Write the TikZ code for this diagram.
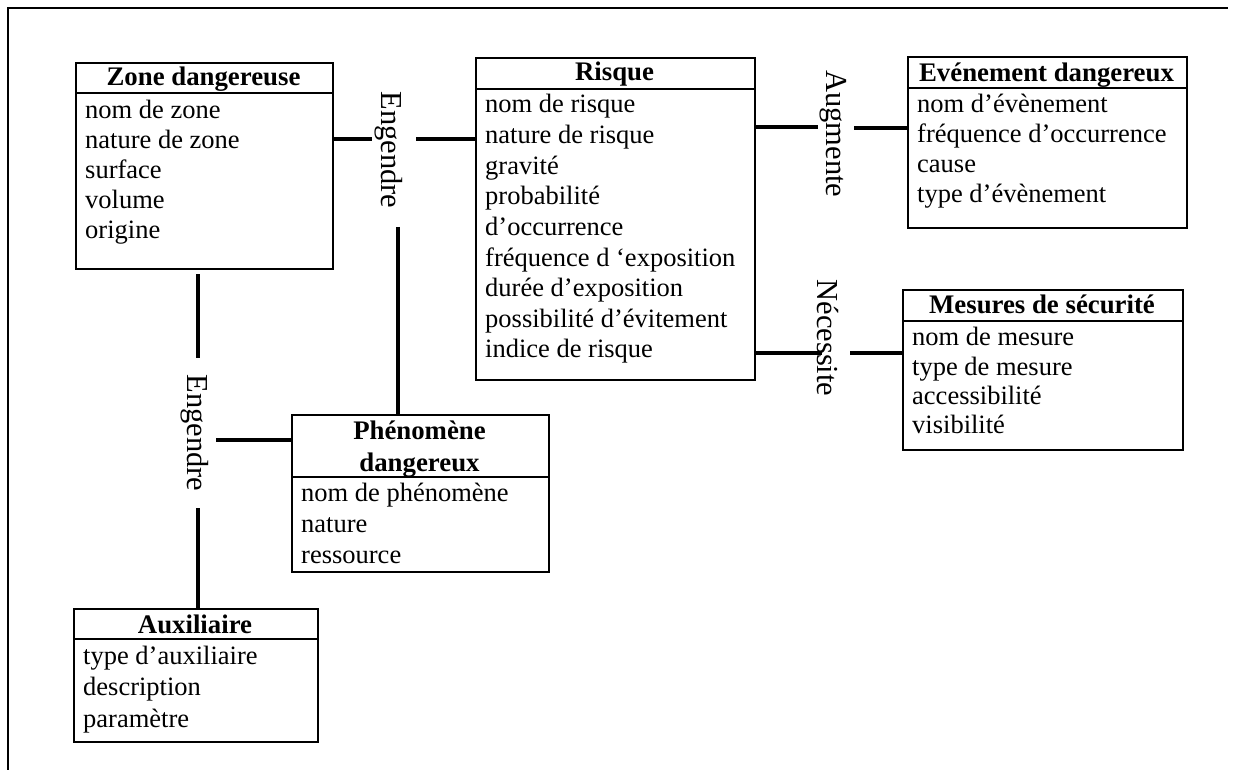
\documentclass[tikz,border=0pt]{standalone}
\usepackage{fontspec}
\setmainfont{Liberation Serif}
\begin{document}
\begin{tikzpicture}[x=1pt,y=-1pt,
  box/.style={draw, line width=2pt, inner sep=0pt, anchor=north west},
  sepline/.style={line width=2pt},
  conn/.style={line width=3.2pt},
  frameline/.style={line width=2pt},
  attr/.style={anchor=base west, inner sep=0pt, font=\fontsize{26.5}{30}\selectfont},
  ttl/.style={anchor=base, inner sep=0pt, font=\fontsize{26.8}{30}\selectfont\bfseries},
  lbl/.style={rotate=-90, inner sep=0pt, font=\fontsize{30.5}{34}\selectfont}]
\useasboundingbox (0,0) rectangle (1234,770);
% outer frame (top and left only)
\draw[frameline] (8,770) -- (8,8) -- (1228,8);

% ---------- boxes ----------
\node[box, minimum width=257pt, minimum height=206pt] (zone) at (75,62) {};
\draw[sepline] ([yshift=-31pt]zone.north west) -- ([yshift=-31pt]zone.north east);
\node[ttl] (zonet) at (203.5,86) {Zone dangereuse};
\node[attr] (z1) at (85,119) {nom de zone};
\node[attr] (z2) at (85,149) {nature de zone};
\node[attr] (z3) at (85,179) {surface};
\node[attr] (z4) at (85,209) {volume};
\node[attr] (z5) at (85,239) {origine};

\node[box, minimum width=279pt, minimum height=322pt] (risque) at (475,57) {};
\draw[sepline] ([yshift=-32pt]risque.north west) -- ([yshift=-32pt]risque.north east);
\node[ttl] (risquet) at (614.5,81) {Risque};
\node[attr] (r1) at (485,113) {nom de risque};
\node[attr] (r2) at (485,143.6) {nature de risque};
\node[attr] (r3) at (485,174.2) {gravité};
\node[attr] (r4) at (485,204.8) {probabilité};
\node[attr] (r5) at (485,235.4) {d’occurrence};
\node[attr] (r6) at (485,266) {fréquence d ‘exposition};
\node[attr] (r7) at (485,296.6) {durée d’exposition};
\node[attr] (r8) at (485,327.2) {possibilité d’évitement};
\node[attr] (r9) at (485,357.8) {indice de risque};

\node[box, minimum width=279pt, minimum height=171pt] (even) at (907,56) {};
\draw[sepline] ([yshift=-32pt]even.north west) -- ([yshift=-32pt]even.north east);
\node[ttl] (event) at (1046.5,82) {Evénement dangereux};
\node[attr] (e1) at (917,113) {nom d’évènement};
\node[attr] (e2) at (917,143) {fréquence d’occurrence};
\node[attr] (e3) at (917,173) {cause};
\node[attr] (e4) at (917,203) {type d’évènement};

\node[box, minimum width=280pt, minimum height=160pt] (mes) at (902,289) {};
\draw[sepline] ([yshift=-32pt]mes.north west) -- ([yshift=-32pt]mes.north east);
\node[ttl] (mest) at (1042,313) {Mesures de sécurité};
\node[attr] (m1) at (912,345) {nom de mesure};
\node[attr] (m2) at (912,375) {type de mesure};
\node[attr] (m3) at (912,404) {accessibilité};
\node[attr] (m4) at (912,433) {visibilité};

\node[box, minimum width=257pt, minimum height=157pt] (phen) at (291,414) {};
\draw[sepline] ([yshift=-63pt]phen.north west) -- ([yshift=-63pt]phen.north east);
\node[ttl] (phent1) at (419.5,439) {Phénomène};
\node[ttl] (phent2) at (419.5,471) {dangereux};
\node[attr] (p1) at (301,501) {nom de phénomène};
\node[attr] (p2) at (301,532) {nature};
\node[attr] (p3) at (301,563) {ressource};

\node[box, minimum width=244pt, minimum height=133pt] (aux) at (73,608) {};
\draw[sepline] ([yshift=-31pt]aux.north west) -- ([yshift=-31pt]aux.north east);
\node[ttl] (auxt) at (195,633) {Auxiliaire};
\node[attr] (a1) at (83,664) {type d’auxiliaire};
\node[attr] (a2) at (83,695) {description};
\node[attr] (a3) at (83,727) {paramètre};

% ---------- relation labels ----------
\node[lbl] (eng1) at (389,150) {Engendre};
\node[lbl] (eng2) at (195,433) {Engendre};
\node[lbl] (aug) at (833,134) {Augmente};
\node[lbl] (nec) at (828,338) {Nécessite};

% ---------- connector ends ----------
\coordinate (c1) at (372,139);
\coordinate (c2) at (416,139);
\coordinate (c3) at (398,227);
\coordinate (c4) at (198,358);
\coordinate (c5) at (198,508);
\coordinate (c6) at (216,440);
\coordinate (c7) at (818,127);
\coordinate (c8) at (854,128);
\coordinate (c9) at (822,353);
\coordinate (c10) at (850,353);

% ---------- connectors ----------
\draw[conn] (c1 -| zone.east) -- (c1);
\draw[conn] (c2) -- (c2 -| risque.west);
\draw[conn] (c3) -- (c3 |- phen.north);
\draw[conn] ([yshift=-4pt]c4 |- zone.south) -- (c4);
\draw[conn] (c5) -- (c5 |- aux.north);
\draw[conn] (c6) -- (c6 -| phen.west);
\draw[conn] (c7 -| risque.east) -- (c7);
\draw[conn] (c8) -- (c8 -| even.west);
\draw[conn] (c9 -| risque.east) -- (c9);
\draw[conn] (c10) -- (c10 -| mes.west);
\end{tikzpicture}
\end{document}
